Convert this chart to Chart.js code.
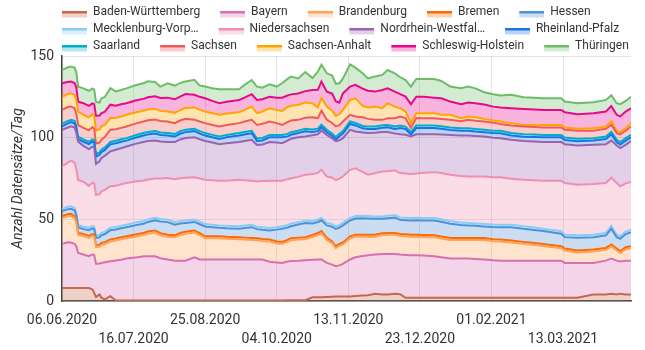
<!DOCTYPE html>
<html><head><meta charset="utf-8">
<script src="https://cdn.jsdelivr.net/npm/chart.js@4.4.1/dist/chart.umd.min.js"></script>
<style>html,body{margin:0;padding:0;background:#fff;}canvas{display:block;}</style>
</head><body>
<canvas id="c" width="645" height="350"></canvas>
<script>
// ---- data ----
const dates = ['06.06.2020','09.06.2020','11.06.2020','13.06.2020','14.06.2020','15.06.2020','18.06.2020','21.06.2020','23.06.2020','24.06.2020',
'25.06.2020','27.06.2020','28.06.2020','30.06.2020','03.07.2020','06.07.2020','09.07.2020','12.07.2020','17.07.2020','22.07.2020',
'24.07.2020','28.07.2020','31.07.2020','04.08.2020','08.08.2020','11.08.2020','14.08.2020','19.08.2020','22.08.2020','25.08.2020',
'29.08.2020','02.09.2020','06.09.2020','13.09.2020','16.09.2020','20.09.2020','23.09.2020','26.09.2020','30.09.2020','04.10.2020',
'07.10.2020','10.10.2020','12.10.2020','16.10.2020','20.10.2020','24.10.2020','27.10.2020','29.10.2020','01.11.2020','04.11.2020',
'06.11.2020','08.11.2020','10.11.2020','14.11.2020','17.11.2020','21.11.2020','24.11.2020','28.11.2020','02.12.2020','05.12.2020',
'09.12.2020','12.12.2020','15.12.2020','18.12.2020','21.12.2020','25.12.2020','31.12.2020','04.01.2021','09.01.2021','15.01.2021',
'19.01.2021','23.01.2021','28.01.2021','02.02.2021','06.02.2021','12.02.2021','19.02.2021','25.02.2021','02.03.2021','12.03.2021',
'14.03.2021','21.03.2021','30.03.2021','06.04.2021','09.04.2021','12.04.2021','14.04.2021','17.04.2021','20.04.2021'];

const tickLabels = ['06.06.2020','16.07.2020','25.08.2020','04.10.2020','13.11.2020','23.12.2020','01.02.2021','13.03.2021'];

const states = ['Baden-Württemberg','Bayern','Brandenburg','Bremen','Hessen','Mecklenburg-Vorpommern','Niedersachsen','Nordrhein-Westfalen','Rheinland-Pfalz','Saarland','Sachsen','Sachsen-Anhalt','Schleswig-Holstein','Thüringen'];
const legendLabels = ['Baden-Württemberg','Bayern','Brandenburg','Bremen','Hessen','Mecklenburg-Vorp…','Niedersachsen','Nordrhein-Westfal…','Rheinland-Pfalz','Saarland','Sachsen','Sachsen-Anhalt','Schleswig-Holstein','Thüringen'];

const badenWuerttemberg = [8,8,8,8,8,8,8,8,7,5,
2.5,4,2,1,3,0.5,0.3,0.3,0.3,0.3,
0.3,0.3,0.3,0.3,0.3,0.3,0.3,0.3,0.3,0.3,
0.3,0.3,0.3,0.3,0.3,0.3,0.3,0.3,0.3,0.3,
0.3,0.5,0.5,0.5,0.5,2.3,2.3,2.3,2.5,2.6,
2.7,2.7,2.7,2.8,3,3.3,3.5,4.4,4,4,
4.4,4.2,2,2,2,2,2,2,2,2,
2,2,2,2,2,2,2,2,2,2,
2,2,4,4,4.5,4,4.5,4,4];
const bayern = [26.9,28,27.8,27,25.5,21.4,20.5,19.5,21.5,23.2,
20.3,19,21.3,22.7,21.3,24.3,25,25.7,26.4,27.1,
27.1,27.1,25.9,25.1,24.4,24.4,24.4,26.5,25.1,25.1,
25.1,25.1,25.1,25.1,25.1,25.1,25.1,25.1,23.7,23.3,
23,23.7,24,24.2,24.5,23,23.1,23.1,20.8,19.7,
18.6,19.1,20,22.6,23.8,24.2,24.5,24,24.8,24.8,
24.4,24.2,26.2,26,26,25.8,25.4,24.8,24,24,
24,23.7,23.4,22.9,22.7,22.7,22.7,22.7,22.7,22.7,
21.3,21.3,19.3,20.7,21.5,20.7,19.7,20.7,20.7];
const brandenburg = [15.7,15.8,16.3,15.8,14.3,11.1,11.3,11.1,11.3,11.1,
10.2,10.3,11,11.1,12.1,12.2,12.5,12.4,12.7,13.1,
13.8,14.5,14.1,14,14.3,15.6,16.4,15.1,14.9,13,
13,13,12.7,12.4,12.2,12,11.8,11.4,12.4,11.6,
11.7,12,12.7,12.9,12.8,13.9,14.9,16.1,14.1,13,
11,12,11.9,13,12.5,11.9,11.4,11,11.5,11.7,
11.7,11.4,11.4,11.4,11.4,11.4,11.6,11.5,11.4,11.4,
11.4,11.7,12,11.7,11.7,11.1,10.3,9.6,9,7.6,
7.6,6.4,7,6.6,7.3,6.2,5.1,7,7.6];
const bremen = [1.2,1.3,1.3,1.2,1.2,1.1,1.2,1.2,1.2,1.2,
1.1,1.2,1.2,1.2,1.3,1.3,1.2,1.2,1.3,1.3,
1.3,1.3,1.2,1.2,1.2,1.3,1.3,1.3,1.2,1.2,
1.2,1.2,1.2,1.2,1.2,1.2,1.2,1.2,1.2,1.2,
1.2,1.2,1.2,1.2,1.2,1.2,1.3,1.3,1.2,1.2,
1.1,1.1,1.2,1.2,1.2,1.2,1.2,1.2,1.2,1.2,
1.2,1.2,1.2,1.2,1.2,1.2,1.2,1.2,1.2,1.2,
1.2,1.2,1.2,1.2,1.2,1.2,1.2,1.2,1.2,1.2,
1.2,1.2,1.2,1.2,1.3,1.2,1.2,1.2,1.2];
const hessen = [3.2,3,3.1,3.5,3.5,3.5,3,3.5,3.5,3.5,
4.5,4.5,4.7,5,5.6,5.5,5.5,5.6,5.7,5.6,
5.9,6.2,7.2,7.7,6.5,5.8,5.4,5.2,5.5,6,
5.6,5.2,5.2,5.2,5.9,6.6,5.6,5.6,5.6,7.3,
8,7.6,7.4,8,8.7,7.1,6.8,6.6,7.7,9,
10.7,10,10.5,9.7,10,10.1,9.9,9.7,8.8,9,
9.4,8.7,8.7,8.7,8.9,8.9,9.1,9,8.7,7.9,
7.7,7.4,7,7.5,7.6,8.2,8,8,7.9,7.7,
7,7.8,7.6,7.7,9.7,7,7.6,8.1,8.7];
const mecklenburgVorpommern = [1.5,1.5,1.5,1.5,1.5,1.5,1.5,1.5,1.5,1.5,
1.5,1.5,1.5,1.5,1.5,1.5,1.5,1.5,1.6,1.6,
1.6,1.6,1.5,1.5,1.5,1.5,1.5,1.5,1.5,1.5,
1.5,1.5,1.5,1.5,1.5,1.5,1.5,1.5,1.5,1.5,
1.5,1.5,1.5,1.5,1.5,1.5,1.5,1.5,1.5,1.5,
1.4,1.5,1.5,1.5,1.5,1.5,1.5,1.5,1.5,1.5,
1.5,1.5,1.5,1.5,1.5,1.5,1.5,1.5,1.5,1.5,
1.5,1.5,1.5,1.5,1.5,1.5,1.5,1.5,1.5,1.5,
1.5,1.5,1.5,1.5,1.6,1.5,1.5,1.5,1.5];
const niedersachsen = [25.9,27,27.9,27.8,27,27.5,27.5,25.7,26.5,26.5,
24.8,25,25.4,25.5,25.5,25.3,25.5,25.5,25.2,24.8,
24.4,24,24.8,25.5,26.3,26.2,26.1,25.9,26.5,27.1,
27.2,27.3,27.6,28.5,27.8,26.9,27.7,28.3,28.9,28.4,
27.9,28.1,27.8,27.7,28.1,28.7,28.5,29.5,28.4,28.5,
28.5,28.5,28.4,29.5,29.2,26.8,25.3,26.5,27.5,27.3,
27.4,27.1,27,26.9,27,27.7,28.1,28.3,28.5,28.5,
28.4,28.7,29.1,29,29,28.1,28.5,28.9,29.3,30.9,
31.6,31,31,30.5,29.6,31.6,30.6,29.5,29.1];
const nordrheinWestfalen = [22.4,21.5,21,21.4,22,23.5,22,22.5,22,22,
19,20,20.4,21,21.3,22,22,22.4,23,23.7,
23.5,23.2,22.7,22,22.8,23.8,24.4,24.4,24,23.8,
23.1,22.4,23,23.1,24,25.1,22.3,22.4,23.7,23.4,
23,23.6,24.2,24.2,23.4,23.8,23.7,23.9,25.5,24,
23.8,23.5,23.5,24.5,22.6,24.2,25.5,24.7,24.1,23.9,
22.5,23.8,23.8,23,24.1,23.6,23.2,23.7,24.4,24.8,
25.1,24.8,24.5,24.2,24,23.9,23.8,23.7,23.7,23.7,
23.8,24,24,23.8,22.7,23,23.4,23.6,25.2];
const rheinlandPfalz = [2.1,2.5,2.6,2.6,2.5,1.5,2.5,3,3,3,
4.5,4,3.6,3.5,4.3,4,4,3.6,3.8,4,
4.1,4.3,4,4,3.4,3.5,3.6,3.8,3.5,3.3,
3.2,3.2,3.6,4,4,4,2.5,2.5,2.9,3.2,
3.6,2.6,2.5,2.6,3.2,2,1.9,2.1,1.6,1.5,
1,2.5,2.8,3.6,3.7,2.5,2.5,2.3,2.7,2.9,
2.8,3.8,3.5,1.2,3.8,3.8,3.8,3.5,3,3,
3,2.8,2.6,2.8,3,2.6,2.6,2.8,2.9,2.9,
2.6,2.6,2.6,3.2,3.9,2,2.2,2.6,2.2];
const saarland = [1.5,1.5,1.5,1.5,1.5,1.5,1.5,1.5,1.5,1.5,
1.5,1.5,1.5,1.5,1.5,1.5,1.5,1.5,1.5,1.5,
1.5,1.5,1.5,1.5,1.5,1.5,1.5,1.5,1.5,1.5,
1.5,1.5,1.5,1.5,1.5,1.5,1.5,1.5,1.5,1.5,
1.5,1.5,1.5,1.5,1.5,1.5,1.5,1.5,1.5,1.5,
1.5,1.5,1.5,1.5,1.5,1.5,1.5,1.5,1.5,1.5,
1.5,1.5,1.5,1.5,1.5,1.5,1.5,1.5,1.5,1.5,
1.5,1.5,1.5,1.5,1.5,1.5,1.5,1.5,1.5,1.5,
1.5,1.5,1.5,1.5,1.5,1.5,1.5,1.5,1.5];
const sachsen = [8.6,8.5,8.1,7.7,8,7.1,7,7,7.5,7,
6.5,6,6.1,6.5,7.5,7,7,7.1,7.1,7.1,
7.1,7.1,7,7.1,6.7,6.6,6.7,5.5,5.9,6.1,
6.1,6.1,6.1,6.1,6.4,6.7,8.3,8.7,8.2,7.2,
6.1,7.2,7.2,6.6,6.8,7.5,6.5,8.6,6.2,6.5,
6.7,5.3,5.9,4.1,4,5.3,4.7,4.1,3.3,4.1,
5.1,5.5,5.2,2.6,4.6,4.5,4.5,4.5,4.7,4.2,
5.1,5.1,5.1,4.9,4.2,4.6,4.7,4.6,4.5,4.5,
4.7,4.9,4.5,4.8,4.4,4.1,4.7,4.5,5.1];
const sachsenAnhalt = [8.1,8,8.1,8.2,8,8.2,8,8,8,8,
8,8,8.1,7.5,7.1,7,7,7.2,6.8,6.5,
6.6,6.5,6.2,6.1,6.3,6.4,6.5,7.5,7.1,7.1,
7.2,7.2,7,6.7,7.1,8.1,7.2,7.5,8.1,8.1,
8.6,9.3,9,9.2,9.3,8.5,6.5,7.7,8,7.5,
6.3,6.7,7.1,9.1,11.1,7,7,8.1,7.1,9.2,
7.1,5.1,4,3,3,3.1,3.1,2.5,3.1,1.9,
2,2.1,1.6,1.3,1.5,1.5,1,1.3,1.6,1.6,
1.4,1.2,1.6,1.3,2.1,1.4,1.4,1.6,2.1];
const schleswigHolstein = [8.2,7.5,7.2,7.3,8,6.1,7.1,7,6.5,7,
9,8.5,8.1,8,8.2,7.5,7.5,7.1,7.3,7.3,
7.5,7.7,7.9,8.5,8.3,8.2,8.6,7.8,8,8.1,
7.5,7.1,7.2,7.5,7.5,7.6,8.1,7.5,7.1,7.5,
8.1,7,7,7,7,8.2,10.8,10.2,9.2,10.5,
9,7,10.1,8.2,8.2,10.5,10.2,9.2,11.2,9.1,
9.2,8.6,9.1,11.5,10.1,10,9.5,10.1,8.1,8.6,
8.6,8.5,8.8,8.5,8.5,9.1,9.8,9.5,9.2,9.2,
9.4,9,9.2,9.2,9.2,9.8,9.6,10.2,9.1];
const thueringen = [8.1,8.9,9.2,9.4,9,9.2,9.1,9.1,9.2,9,
8.5,8,9.1,9,10.1,8.7,8.7,9.1,9.4,9.6,
9.8,8.8,7,8.8,8.4,8.3,7.7,9.1,6.9,7.2,
7.7,8.5,7.6,6.5,7.8,8.7,8.2,7.1,7.6,6.8,
8.8,10.2,10.9,9.2,11.7,7.3,11.2,10.2,11.2,11,
10.8,11.8,9.2,13.6,10.6,9.4,7.6,9.2,9.2,11.2,
11.2,10.4,10.2,10.8,10.8,10.9,11.4,10.6,9.2,9.7,
9.8,9.2,7.5,7.6,7.4,8.2,7.1,7.1,7.1,7.1,
6.5,6.7,6.7,7.1,6.7,7.1,7.5,6.5,7.1];

const seriesValues = [badenWuerttemberg,bayern,brandenburg,bremen,hessen,mecklenburgVorpommern,niedersachsen,nordrheinWestfalen,rheinlandPfalz,saarland,sachsen,sachsenAnhalt,schleswigHolstein,thueringen];
const lineColors = ['#c7684d','#d670b2','#ffa25a','#ff6a00','#4f90d6','#86cdf7','#f28db2','#9c62ae','#1a73e8','#00aec8','#ef5b5b','#ffa400','#e8088a','#6dbd68'];

// ---- helpers ----
function dayIndex(s){const p=s.split('.');return Math.round((Date.UTC(+p[2],+p[1]-1,+p[0])-Date.UTC(2020,5,6))/86400000);}
function rgba(hex,a){const n=parseInt(hex.slice(1),16);return `rgba(${n>>16&255},${n>>8&255},${n&255},${a})`;}
const days = dates.map(dayIndex);
const tickDays = tickLabels.map(dayIndex);

function swatch(line, fill){
  const c=document.createElement('canvas'); c.width=40; c.height=14;
  const g=c.getContext('2d');
  g.fillStyle=fill; g.fillRect(15,8,25,4.5);
  g.fillStyle=line; g.fillRect(15,6,25,2.5);
  return c;
}
const swatches = lineColors.map(c=>swatch(c, rgba(c,0.3)));

const legendTweak = {
  id:'legendTweak',
  beforeInit(chart){
    const orig = chart.legend.fit;
    chart.legend.fit = function(){ orig.call(this); this.height = 55; };
  },
  afterLayout(chart){ chart.legend.left += 36; chart.legend.right += 36; }
};

Chart.defaults.font.family = "Roboto, 'Noto Sans', sans-serif";
Chart.defaults.color = '#333';

function draw(){
new Chart(document.getElementById('c'), {
  type:'line',
  data:{
    datasets: states.map((name,i)=>({
      label:name,
      data: days.map((d,k)=>({x:d, y:seriesValues[i][k]})),
      borderColor: lineColors[i],
      backgroundColor: rgba(lineColors[i],0.3),
      borderWidth:2,
      pointRadius:0,
      tension:0,
      fill: i===0 ? 'origin' : '-1'
    }))
  },
  options:{
    responsive:false, animation:false, devicePixelRatio:1,
    layout:{padding:{left:6,right:14,top:1,bottom:0}},
    plugins:{
      tooltip:{enabled:false},
      legend:{
        position:'top', align:'start',
        labels:{
          usePointStyle:true, pointStyleWidth:40, padding:5,
          font:{size:12}, color:'#333',
          generateLabels(chart){
            return chart.data.datasets.map((ds,i)=>({
              text: legendLabels[i], pointStyle: swatches[i],
              fillStyle: ds.backgroundColor, strokeStyle: ds.borderColor, lineWidth:0,
              hidden: !chart.isDatasetVisible(i), datasetIndex:i, fontColor:'#333'
            }));
          }
        }
      }
    },
    scales:{
      x:{
        type:'linear', min:0, max:days[days.length-1],
        afterBuildTicks(s){ s.ticks = tickDays.map(v=>({value:v})); },
        ticks:{ autoSkip:false, maxRotation:0, padding:10, font:{size:14, lineHeight:1.35}, color:'#333',
          callback(v,i){ return i%2 ? ['', tickLabels[i]] : tickLabels[i]; } },
        grid:{ color:'rgba(0,0,0,0.1)', drawTicks:false },
        border:{ color:'#444', width:1.5 },
        afterFit(s){ s.height = 49; }
      },
      y:{
        stacked:true, min:0, max:150,
        ticks:{ stepSize:50, padding:8, font:{size:14}, color:'#333' },
        grid:{ color:'rgba(0,0,0,0.1)', drawTicks:false },
        border:{ color:'#444', width:1.5 },
        title:{ display:true, text:'Anzahl Datensätze/Tag', font:{size:14, style:'italic'}, color:'#333', padding:{top:4,bottom:4} },
        afterFit(s){ s.width = 56; }
      }
    }
  },
  plugins:[legendTweak]
});
}
if (document.fonts && document.fonts.load) {
  Promise.all([document.fonts.load('12px Roboto'), document.fonts.load('italic 14px Roboto')]).then(draw, draw);
} else { draw(); }
</script>
</body></html>
